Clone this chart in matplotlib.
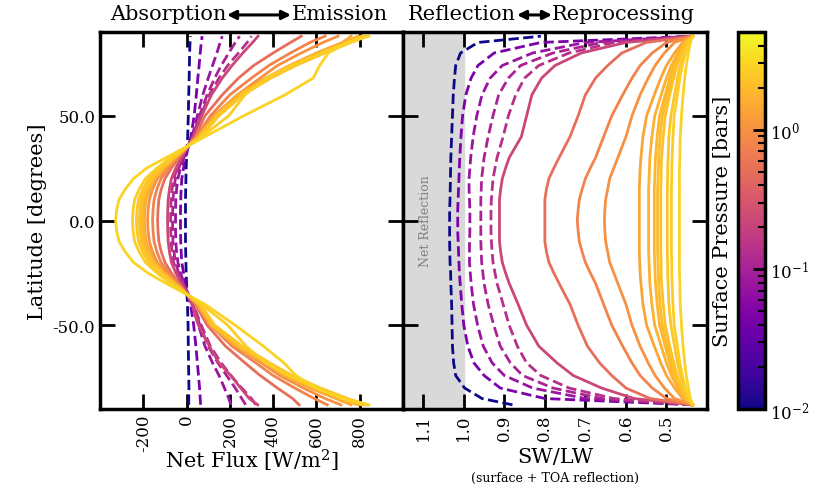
import numpy as np
import matplotlib
matplotlib.use("Agg")
import matplotlib.pyplot as plt
from matplotlib.colors import LogNorm
from matplotlib.patches import FancyArrowPatch
import matplotlib.cm as cm

plt.rcParams['font.family'] = ['DejaVu Serif']
plt.rcParams['mathtext.fontset'] = 'dejavuserif'
plt.rcParams['axes.unicode_minus'] = False

# ---------------- data ----------------
pressures = [0.01, 0.045, 0.075, 0.105, 0.135, 0.22, 0.5, 0.78, 1.0,
             1.4, 1.7, 1.85, 2.0, 2.2, 2.4, 2.6, 2.9]
dashed = [True, True, True, True, True] + [False] * 12

lat = [-88, -85, -80, -74, -68, -60, -50, -40, -30, -25, -20, -15, -10, -5, 0,
       5, 10, 15, 20, 25, 30, 40, 50, 60, 68, 74, 80, 85, 88]

net_flux = [
    [10, 10, 11, 10, 9, 8, 7, 4, 0, -2, -3, -4, -5, -5, -5,
     -5, -5, -4, -3, -2, 0, 5, 8, 10, 12, 13, 14, 16, 18],
    [65, 63, 60, 55, 50, 43, 33, 18, -5, -14, -22, -25, -27, -28, -28,
     -28, -27, -25, -22, -14, -5, 20, 35, 45, 52, 58, 63, 68, 72],
    [205, 195, 175, 150, 120, 85, 55, 25, -12, -28, -40, -46, -50, -51, -51,
     -51, -50, -46, -40, -28, -12, 25, 50, 75, 100, 120, 140, 155, 165],
    [273, 255, 225, 185, 145, 100, 62, 28, -18, -36, -52, -58, -63, -64, -65,
     -64, -63, -58, -52, -36, -18, 28, 60, 95, 130, 160, 195, 225, 245],
    [320, 300, 255, 205, 160, 110, 68, 30, -20, -42, -60, -67, -72, -73, -74,
     -73, -72, -67, -60, -42, -20, 30, 65, 105, 150, 190, 240, 280, 300],
    [329, 290, 250, 204, 150, 105, 55, 25, -25, -50, -70, -79, -85, -87, -88,
     -87, -85, -79, -70, -50, -25, 32, 70, 115, 165, 210, 260, 305, 330],
    [520, 490, 420, 340, 270, 180, 95, 40, -35, -70, -100, -117, -128, -132, -134,
     -132, -128, -117, -100, -70, -35, 40, 85, 165, 240, 310, 400, 480, 530],
    [650, 590, 500, 400, 320, 210, 110, 45, -42, -83, -118, -137, -150, -155, -157,
     -155, -150, -137, -118, -83, -42, 45, 110, 200, 300, 380, 480, 570, 640],
    [713, 640, 540, 430, 345, 230, 115, 50, -48, -95, -135, -157, -172, -178, -180,
     -178, -172, -157, -135, -95, -48, 50, 125, 235, 340, 420, 530, 630, 700],
    [760, 690, 570, 450, 360, 230, 110, 52, -53, -103, -147, -170, -187, -193, -195,
     -193, -187, -170, -147, -103, -53, 55, 130, 235, 365, 475, 600, 720, 760],
    [790, 705, 585, 460, 365, 235, 115, 55, -55, -106, -150, -175, -192, -198, -200,
     -198, -192, -175, -150, -106, -55, 57, 133, 240, 370, 485, 615, 735, 790],
    [805, 715, 595, 468, 370, 240, 118, 57, -57, -109, -154, -179, -197, -203, -205,
     -203, -197, -179, -154, -109, -57, 58, 136, 245, 375, 490, 625, 745, 805],
    [815, 725, 605, 475, 375, 245, 121, 59, -59, -112, -158, -184, -202, -208, -210,
     -208, -202, -184, -158, -112, -59, 60, 139, 250, 380, 495, 630, 750, 815],
    [825, 735, 612, 480, 380, 250, 124, 61, -62, -117, -164, -191, -210, -216, -218,
     -216, -210, -191, -164, -117, -62, 62, 142, 255, 385, 500, 635, 755, 825],
    [835, 745, 620, 488, 385, 258, 130, 65, -68, -126, -175, -203, -222, -229, -232,
     -229, -222, -203, -175, -126, -68, 66, 150, 262, 390, 505, 640, 760, 835],
    [830, 725, 600, 470, 365, 275, 190, 70, -75, -137, -190, -219, -240, -247, -250,
     -247, -240, -219, -190, -137, -75, 70, 195, 270, 370, 485, 620, 745, 820],
    [843, 720, 600, 505, 450, 355, 225, 85, -95, -180, -245, -283, -312, -323, -328,
     -323, -312, -283, -245, -185, -95, 85, 264, 455, 585, 615, 655, 745, 843],
]

sw_lw = [
    [0.88, 0.955, 0.998, 1.020, 1.025, 1.028, 1.029, 1.030, 1.032, 1.0325, 1.034, 1.0345, 1.035, 1.035, 1.035,
     1.035, 1.034, 1.0335, 1.033, 1.0325, 1.032, 1.030, 1.028, 1.026, 1.023, 1.020, 1.008, 0.965, 0.81],
    [0.435, 0.80, 0.91, 0.95, 0.975, 0.99, 1.000, 1.005, 1.009, 1.011, 1.012, 1.013, 1.014, 1.015, 1.015,
     1.015, 1.014, 1.013, 1.012, 1.011, 1.010, 1.007, 1.003, 0.995, 0.982, 0.965, 0.925, 0.81, 0.435],
    [0.435, 0.70, 0.83, 0.90, 0.93, 0.952, 0.966, 0.976, 0.982, 0.984, 0.986, 0.986, 0.986, 0.985, 0.985,
     0.985, 0.986, 0.987, 0.987, 0.985, 0.983, 0.977, 0.968, 0.955, 0.935, 0.905, 0.83, 0.70, 0.435],
    [0.435, 0.66, 0.78, 0.855, 0.885, 0.91, 0.926, 0.94, 0.95, 0.953, 0.956, 0.957, 0.958, 0.958, 0.958,
     0.958, 0.958, 0.957, 0.956, 0.953, 0.950, 0.940, 0.928, 0.914, 0.89, 0.86, 0.78, 0.66, 0.435],
    [0.435, 0.63, 0.74, 0.81, 0.845, 0.868, 0.888, 0.903, 0.918, 0.923, 0.928, 0.930, 0.932, 0.933, 0.933,
     0.933, 0.932, 0.930, 0.928, 0.923, 0.918, 0.903, 0.89, 0.872, 0.85, 0.815, 0.74, 0.63, 0.435],
    [0.435, 0.58, 0.66, 0.73, 0.77, 0.815, 0.845, 0.866, 0.888, 0.897, 0.905, 0.909, 0.912, 0.912, 0.912,
     0.912, 0.912, 0.909, 0.905, 0.897, 0.888, 0.858, 0.845, 0.832, 0.808, 0.775, 0.71, 0.60, 0.435],
    [0.435, 0.54, 0.60, 0.635, 0.665, 0.695, 0.718, 0.738, 0.765, 0.778, 0.79, 0.796, 0.80, 0.80, 0.80,
     0.80, 0.80, 0.796, 0.79, 0.778, 0.765, 0.738, 0.718, 0.700, 0.675, 0.645, 0.61, 0.55, 0.435],
    [0.435, 0.50, 0.535, 0.565, 0.585, 0.608, 0.635, 0.655, 0.675, 0.688, 0.70, 0.708, 0.715, 0.718, 0.72,
     0.718, 0.715, 0.708, 0.70, 0.688, 0.675, 0.655, 0.635, 0.608, 0.585, 0.565, 0.535, 0.50, 0.435],
    [0.435, 0.48, 0.505, 0.528, 0.545, 0.565, 0.585, 0.60, 0.62, 0.63, 0.64, 0.645, 0.65, 0.652, 0.653,
     0.652, 0.65, 0.645, 0.64, 0.63, 0.62, 0.60, 0.585, 0.565, 0.545, 0.528, 0.505, 0.48, 0.435],
    [0.435, 0.460, 0.480, 0.500, 0.514, 0.530, 0.549, 0.558, 0.563, 0.565, 0.566, 0.567, 0.567, 0.567, 0.567,
     0.567, 0.567, 0.567, 0.566, 0.565, 0.563, 0.558, 0.549, 0.530, 0.514, 0.500, 0.480, 0.460, 0.435],
    [0.435, 0.456, 0.472, 0.488, 0.500, 0.513, 0.529, 0.536, 0.541, 0.542, 0.543, 0.544, 0.544, 0.544, 0.544,
     0.544, 0.544, 0.544, 0.543, 0.542, 0.541, 0.536, 0.529, 0.513, 0.500, 0.488, 0.472, 0.456, 0.435],
    [0.435, 0.453, 0.467, 0.482, 0.492, 0.503, 0.517, 0.523, 0.527, 0.528, 0.529, 0.530, 0.530, 0.530, 0.530,
     0.530, 0.530, 0.530, 0.529, 0.528, 0.527, 0.523, 0.517, 0.503, 0.492, 0.482, 0.467, 0.453, 0.435],
    [0.435, 0.452, 0.465, 0.478, 0.487, 0.498, 0.510, 0.516, 0.519, 0.520, 0.521, 0.522, 0.522, 0.522, 0.522,
     0.522, 0.522, 0.522, 0.521, 0.520, 0.519, 0.516, 0.510, 0.498, 0.487, 0.478, 0.465, 0.452, 0.435],
    [0.435, 0.450, 0.462, 0.474, 0.482, 0.492, 0.503, 0.508, 0.512, 0.513, 0.513, 0.514, 0.514, 0.514, 0.514,
     0.514, 0.514, 0.514, 0.513, 0.513, 0.512, 0.508, 0.503, 0.492, 0.482, 0.474, 0.462, 0.450, 0.435],
    [0.435, 0.447, 0.456, 0.466, 0.473, 0.480, 0.489, 0.494, 0.496, 0.497, 0.497, 0.498, 0.498, 0.498, 0.498,
     0.498, 0.498, 0.498, 0.497, 0.497, 0.496, 0.494, 0.489, 0.480, 0.473, 0.466, 0.456, 0.447, 0.435],
    [0.435, 0.445, 0.453, 0.461, 0.467, 0.473, 0.481, 0.484, 0.486, 0.487, 0.487, 0.488, 0.488, 0.488, 0.488,
     0.488, 0.488, 0.488, 0.487, 0.487, 0.486, 0.484, 0.481, 0.473, 0.467, 0.461, 0.453, 0.445, 0.435],
    [0.435, 0.441, 0.446, 0.451, 0.455, 0.459, 0.463, 0.466, 0.467, 0.468, 0.468, 0.468, 0.468, 0.468, 0.468,
     0.468, 0.468, 0.468, 0.468, 0.468, 0.467, 0.466, 0.463, 0.459, 0.455, 0.451, 0.446, 0.441, 0.435],
]

flux_ticks = [-200, 0, 200, 400, 600, 800]
ratio_ticks = [1.1, 1.0, 0.9, 0.8, 0.7, 0.6, 0.5]
lat_ticks = [-50, 0, 50]

# ---------------- figure ----------------
W, H = 831, 489
fig = plt.figure(figsize=(W / 100, H / 100), dpi=100)

def fx(px):
    return px / W

def fy(py):
    return 1 - py / H

ax1 = fig.add_axes([fx(100), fy(410), fx(403) - fx(100), fy(33) - fy(410)])
ax2 = fig.add_axes([fx(403), fy(410), fx(707) - fx(403), fy(33) - fy(410)])
cax = fig.add_axes([fx(738), fy(410), fx(765) - fx(738), fy(33) - fy(410)])

norm = LogNorm(vmin=0.01, vmax=5)
cmap = plt.get_cmap('plasma')

for p, d, fl, r in zip(pressures, dashed, net_flux, sw_lw):
    c = cmap(norm(p))
    ls = '--' if d else '-'
    ax1.plot(fl, lat, ls=ls, color=c, lw=2)
    ax2.plot(r, lat, ls=ls, color=c, lw=2)

ax2.axvspan(1.15, 1.0, color='#d9d9d9', zorder=0)
ax2.text(1.095, 0, 'Net Reflection', rotation=90, color='#808080',
         fontsize=9, ha='center', va='center')

ax1.set_xlim(-400, 1000)
ax2.set_xlim(1.15, 0.4)
for a in (ax1, ax2):
    a.set_ylim(-90, 90)
    a.set_yticks(lat_ticks)
    a.tick_params(which='major', direction='in', length=11, width=2,
                  top=True, right=True, labelsize=12)
    for s in a.spines.values():
        s.set_linewidth(2.5)

ax1.set_xticks(flux_ticks)
ax1.set_xticklabels([str(v) for v in flux_ticks], rotation=90)
ax1.set_yticklabels(['%.1f' % v for v in lat_ticks])
ax2.set_xticks(ratio_ticks)
ax2.set_xticklabels(['%.1f' % v for v in ratio_ticks], rotation=90)
ax2.set_yticklabels([])

ax1.set_xlabel('Net Flux [W/m$^2$]', fontsize=15)
ax1.xaxis.set_label_coords(0.5, -0.10)
ax1.set_ylabel('Latitude [degrees]', fontsize=15, labelpad=4)
ax2.set_xlabel('SW/LW', fontsize=15)
ax2.xaxis.set_label_coords(0.5, -0.10)
fig.text(fx(555), fy(478), '(surface + TOA reflection)', fontsize=9,
         ha='center', va='center')

# headings with arrows
ty = fy(14)
fig.text(fx(226), ty, 'Absorption', fontsize=15, ha='right', va='center')
fig.text(fx(292), ty, 'Emission', fontsize=15, ha='left', va='center')
fig.text(fx(516), ty, 'Reflection', fontsize=15, ha='right', va='center')
fig.text(fx(552), ty, 'Reprocessing', fontsize=15, ha='left', va='center')
for x0, x1 in ((227, 291), (517, 552)):
    fig.add_artist(FancyArrowPatch(
        (fx(x0), ty - 0.004), (fx(x1), ty - 0.004), transform=fig.transFigure,
        arrowstyle='<|-|>', mutation_scale=13, lw=2.2, color='k',
        shrinkA=0, shrinkB=0))

sm = cm.ScalarMappable(norm=norm, cmap=cmap)
cb = fig.colorbar(sm, cax=cax)
cb.outline.set_linewidth(2.5)
cb.ax.tick_params(which='major', direction='in', length=9, width=2, labelsize=12)
cb.ax.tick_params(which='minor', direction='in', length=5, width=1.5)
cb.ax.yaxis.set_label_position('left')
cb.set_label('Surface Pressure [bars]', fontsize=15, labelpad=4)

fig.savefig('out.png', dpi=100)
